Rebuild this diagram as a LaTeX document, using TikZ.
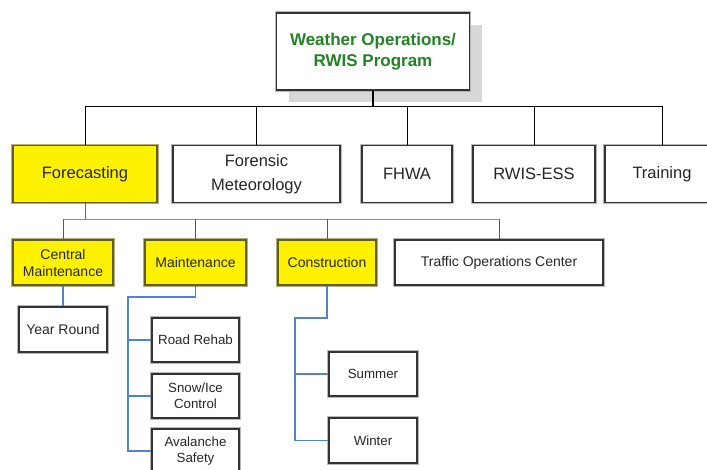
\documentclass[tikz,border=0pt]{standalone}
\usepackage{fontspec}
\setmainfont{Liberation Sans}
\usetikzlibrary{shadows}

\definecolor{titlegreen}{RGB}{35,130,35}
\definecolor{linkblue}{RGB}{80,130,210}
\definecolor{boxolive}{RGB}{95,95,35}
\definecolor{rimolive}{RGB}{180,175,125}

\tikzset{
  box/.style={rectangle, draw=black!80, line width=1.3pt, fill=white,
    preaction={draw=gray!55, line width=3.8pt}, inner sep=1pt,
    align=center, text=black!85},
  ybox/.style={box, fill=yellow, draw=boxolive,
    preaction={draw=rimolive, line width=3.8pt}},
  lvlone/.style={font=\fontsize{16.5}{24}\selectfont},
  lvltwo/.style={font=\fontsize{14}{17}\selectfont},
  lvlthree/.style={font=\fontsize{13.3}{16}\selectfont},
  bluelink/.style={linkblue, line width=1.3pt},
}

\begin{document}
\begin{tikzpicture}[x=1pt, y=-1pt]
    \useasboundingbox[clip] (0,0) rectangle (707,469);

    % Programm
    \node[box, minimum width=193pt, minimum height=77pt, text=titlegreen,
      font=\fontsize{17}{20.5}\selectfont\bfseries,
      drop shadow={shadow xshift=12pt, shadow yshift=-12pt, fill=gray!60, opacity=0.5}]
      (program) at (373,51.5) {Weather Operations/\\RWIS Program};

    % erste Ebene
    \node[ybox, lvlone, minimum width=144pt, minimum height=57pt] (forecast) at (85,174) {Forecasting};
    \node[box, lvlone, minimum width=167pt, minimum height=57pt] (forensic) at (256.5,174) {Forensic\\Meteorology};
    \node[box, lvlone, minimum width=90pt, minimum height=57pt] (fhwa) at (407,174) {FHWA};
    \node[box, lvlone, minimum width=122pt, minimum height=57pt] (rwis) at (534,174) {RWIS-ESS};
    \node[box, lvlone, minimum width=114pt, minimum height=57pt] (training) at (662,174) {Training};

    \coordinate (busone) at (0,106);
    \draw[black, line width=1.4pt] (program.south) -- (program.south |- busone);
    \draw[black, line width=1pt] (forecast.north) -- (forecast.north |- busone)
      -- (training.north |- busone) -- (training.north);
    \foreach \n in {forensic, fhwa, rwis}
      \draw[black, line width=1pt] (\n.north) -- (\n.north |- busone);

    % zweite Ebene
    \node[ybox, lvltwo, minimum width=100pt, minimum height=45pt] (central) at (63,262.5) {Central\\Maintenance};
    \node[ybox, lvltwo, minimum width=101pt, minimum height=45pt] (maint) at (195.5,262.5) {Maintenance};
    \node[ybox, lvltwo, minimum width=98pt, minimum height=45pt] (constr) at (327,262.5) {Construction};
    \node[box, lvltwo, minimum width=208pt, minimum height=45pt] (toc) at (499,262.5) {Traffic Operations Center};

    \coordinate (bustwo) at (0,219);
    \draw[black!60, line width=1pt] (forecast.south) -- (forecast.south |- bustwo);
    \draw[black!45, line width=1pt] (central.north |- bustwo) -- (toc.north |- bustwo);
    \foreach \n in {central, maint, constr, toc}
      \draw[black!65, line width=1pt] (\n.north) -- (\n.north |- bustwo);

    % dritte Ebene
    \node[box, lvltwo, minimum width=88pt, minimum height=45pt] (yearround) at (63,329.5) {Year Round};
    \node[box, lvlthree, minimum width=87pt, minimum height=44pt] (rehab) at (195.5,340) {Road Rehab};
    \node[box, lvlthree, minimum width=87pt, minimum height=44pt] (snow) at (195.5,396) {Snow/Ice\\Control};
    \node[box, lvlthree, minimum width=87pt, minimum height=44pt] (avalanche) at (195.5,451) {Avalanche\\Safety};
    \node[box, lvlthree, minimum width=88pt, minimum height=44pt] (summer) at (373,374) {Summer};
    \node[box, lvlthree, minimum width=88pt, minimum height=45pt] (winter) at (373,440.5) {Winter};

    \draw[bluelink] (central.south) -- (yearround.north);

    \coordinate (maintturn) at (128,297);
    \draw[bluelink] (maint.south) |- (maintturn) |- (avalanche.west);
    \foreach \n in {rehab, snow}
      \draw[bluelink] (\n.west) -- (\n.west -| maintturn);

    \coordinate (constrturn) at (295,318);
    \draw[bluelink] (constr.south) |- (constrturn) |- (winter.west);
    \draw[bluelink] (summer.west) -- (summer.west -| constrturn);
\end{tikzpicture}
\end{document}
